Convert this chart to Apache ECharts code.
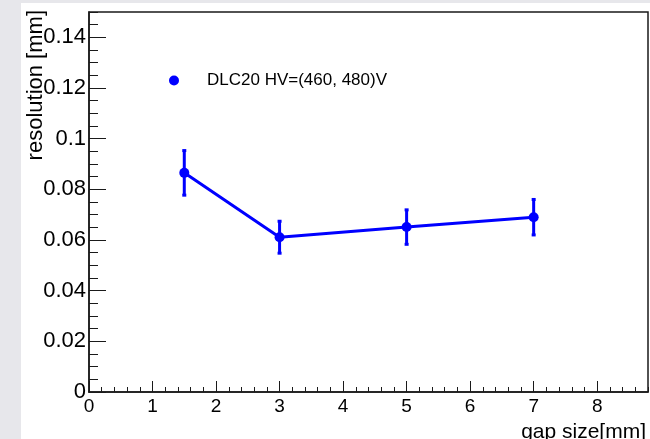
<!DOCTYPE html>
<html>
<head>
<meta charset="utf-8">
<script src="https://cdn.jsdelivr.net/npm/echarts@6/dist/echarts.min.js"></script>
<style>
  html, body { margin: 0; padding: 0; background: #e7e7eb; }
  #paper { position: absolute; left: 21px; top: 3px; width: 629px; height: 436px; background: #ffffff; }
  #chart { position: absolute; left: 0; top: 0; width: 650px; height: 439px; }
</style>
</head>
<body>
<div id="paper"></div>
<div id="chart"></div>
<script>
// ---- data ----
const seriesName = 'DLC20 HV=(460, 480)V';
const gapSize = [1.5, 3, 5, 7];
const resolution = [0.0865, 0.0611, 0.0651, 0.0690];
const resolutionErr = [0.0088, 0.0063, 0.0068, 0.0070];
const xTitle = 'gap size[mm]';
const yTitle = 'resolution [mm]';
const xRange = [0, 8.8];
const yRange = [0, 0.15];
const xMajorStep = 1, xMinorStep = 0.2;
const yMajorStep = 0.02, yMinorStep = 0.005;

const points = gapSize.map((x, i) => [x, resolution[i]]);
const errData = gapSize.map((x, i) => [x, resolution[i], resolutionErr[i]]);

const blue = '#0000ff';
const ink = '#1a1a1a';
const font = 'Liberation Sans, Arial, Helvetica, sans-serif';

const chart = echarts.init(document.getElementById('chart'), null, { renderer: 'canvas' });

const option = {
  backgroundColor: 'transparent',
  animation: false,
  grid: {
    left: 89, top: 12, right: 2, bottom: 47,
    show: true, borderColor: ink, borderWidth: 1.5, backgroundColor: 'transparent'
  },
  legend: {
    left: 164, top: 67,
    itemWidth: 10, itemHeight: 10,
    data: [{ name: seriesName, icon: 'circle' }],
    textStyle: { fontFamily: font, fontSize: 17, color: '#000', padding: [0, 0, 0, 23] },
    selectedMode: false
  },
  xAxis: [
    {
      type: 'value', min: xRange[0], max: xRange[1], interval: xMajorStep,
      axisLine: { show: true, onZero: false, lineStyle: { color: ink, width: 1.5 } },
      axisTick: { show: true, inside: true, length: 11, lineStyle: { color: ink, width: 1 } },
      axisLabel: {
        margin: 5, fontFamily: font, fontSize: 19, color: '#000',
        showMaxLabel: false,
        formatter: v => (Math.abs(v - xRange[1]) < 1e-9 ? '' : String(v))
      },
      splitLine: { show: false }
    },
    {
      type: 'value', min: xRange[0], max: xRange[1], interval: xMinorStep, position: 'bottom',
      axisLine: { show: false },
      axisTick: { show: true, inside: true, length: 5, lineStyle: { color: ink, width: 1 } },
      axisLabel: { show: false },
      splitLine: { show: false }
    }
  ],
  yAxis: [
    {
      type: 'value', min: yRange[0], max: yRange[1], interval: yMajorStep,
      axisLine: { show: true, onZero: false, lineStyle: { color: ink, width: 1.5 } },
      axisTick: { show: true, inside: true, length: 17, lineStyle: { color: ink, width: 1 } },
      axisLabel: {
        margin: 3, fontFamily: font, fontSize: 22, color: '#000',
        showMaxLabel: false,
        formatter: v => (Math.abs(v - yRange[1]) < 1e-9 ? '' : String(+v.toFixed(4)))
      },
      splitLine: { show: false }
    },
    {
      type: 'value', min: yRange[0], max: yRange[1], interval: yMinorStep, position: 'left',
      axisLine: { show: false },
      axisTick: { show: true, inside: true, length: 9, lineStyle: { color: ink, width: 1 } },
      axisLabel: { show: false },
      splitLine: { show: false }
    }
  ],
  graphic: [
    {
      type: 'text', x: 36, y: 10, rotation: Math.PI / 2,
      style: { text: yTitle, fontFamily: font, fontSize: 22, fill: '#000', align: 'right', verticalAlign: 'middle' }
    },
    {
      type: 'text', x: 646, y: 432,
      style: { text: xTitle, fontFamily: font, fontSize: 21, fill: '#000', align: 'right', verticalAlign: 'middle' }
    }
  ],
  series: [
    {
      name: seriesName,
      type: 'line',
      xAxisIndex: 0, yAxisIndex: 0,
      data: points,
      symbol: 'circle', symbolSize: 10,
      lineStyle: { color: blue, width: 3 },
      itemStyle: { color: blue },
      z: 3
    },
    {
      name: seriesName + ' err',
      type: 'custom',
      xAxisIndex: 0, yAxisIndex: 0,
      data: errData,
      renderItem: function (params, api) {
        const x = api.value(0), y = api.value(1), e = api.value(2);
        const top = api.coord([x, y + e]);
        const bot = api.coord([x, y - e]);
        const cap = 2;
        const st = { stroke: blue, lineWidth: 3 };
        return {
          type: 'group',
          children: [
            { type: 'line', shape: { x1: top[0], y1: top[1], x2: bot[0], y2: bot[1] }, style: st },
            { type: 'line', shape: { x1: top[0] - cap, y1: top[1], x2: top[0] + cap, y2: top[1] }, style: st },
            { type: 'line', shape: { x1: bot[0] - cap, y1: bot[1], x2: bot[0] + cap, y2: bot[1] }, style: st }
          ]
        };
      },
      z: 2
    }
  ]
};

chart.setOption(option);
</script>
</body>
</html>
